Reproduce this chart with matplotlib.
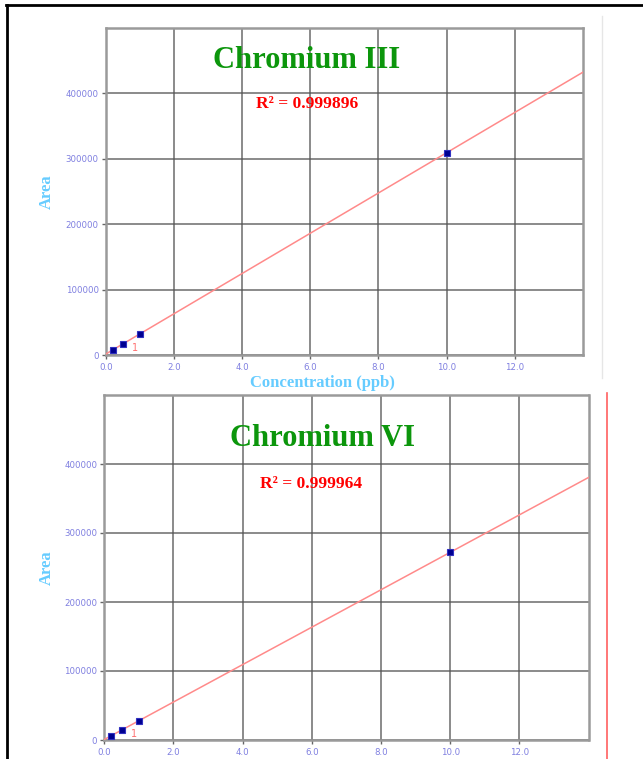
import matplotlib
matplotlib.use("Agg")
from matplotlib import pyplot as plt
from matplotlib.lines import Line2D
import numpy as np

## DATA
conc = [0.2, 0.5, 1.0, 10.0]
area_cr3 = [7000, 17000, 32500, 309000]
area_cr6 = [6500, 14000, 28000, 272000]
r2_cr3 = "0.999896"
r2_cr6 = "0.999964"
x_ticks = [0, 2, 4, 6, 8, 10, 12]
y_ticks = [0, 100000, 200000, 300000, 400000]

W, H = 643, 759
fig = plt.figure(figsize=(W / 100, H / 100), dpi=100)

serif = ["Liberation Serif", "DejaVu Serif"]
tick_col = "#7f7fe0"
green = "#0c960c"
lblue = "#66ccff"


def px(x, y):
    return x / W, 1 - y / H


def make_axes(rect, conc, area, title, r2, title_xy, r2_xy, show_xlabel, xpad):
    left, top, right, bottom = rect
    ax = fig.add_axes([left / W, 1 - bottom / H, (right - left) / W, (bottom - top) / H])
    ax.set_xlim(0, 14)
    ax.set_ylim(0, 500000)
    ax.set_xticks(x_ticks)
    ax.set_yticks(y_ticks)
    ax.set_xticklabels([f"{t:.1f}" for t in x_ticks])
    ax.set_yticklabels([str(t) for t in y_ticks])
    ax.tick_params(colors="#666666", labelcolor=tick_col, labelsize=6.2, length=3, width=1, pad=2)
    ax.tick_params(axis="x", pad=xpad)
    ax.grid(True, color="#555555", lw=1.2, alpha=0.8)
    ax.set_axisbelow(True)
    for s in ax.spines.values():
        s.set_color("#9a9a9a")
        s.set_linewidth(1.8)

    # calibration line
    k, b = np.polyfit(conc, area, 1)
    xs = np.array([0, 14])
    ax.plot(xs, k * xs + b, color="#ff8a8a", lw=1.1, zorder=3)
    ax.plot(conc, area, ls="none", marker="s", ms=4.5, mfc="#000090", mec="#3030c0", mew=0.8, zorder=4)
    ax.text(0.85, k * 0.5 - 5000, "1", color="#ff7070", fontsize=7, ha="center", va="center")

    ax.set_ylabel("Area", family=serif, fontweight="bold", color=lblue, fontsize=12)
    ax.yaxis.label.set_va("center")
    ax.yaxis.set_label_coords(-(left - 47) / (right - left), 0.5)
    if show_xlabel:
        ax.set_xlabel("Concentration (ppb)", family=serif, fontweight="bold", color=lblue, fontsize=12)
        ax.xaxis.set_label_coords((322 - left) / (right - left), -(383 - bottom) / (bottom - top))
        ax.xaxis.label.set_va("center")

    fig.text(*px(*title_xy), title, family=serif, fontweight="bold", color=green,
             fontsize=22, ha="center", va="center")
    fig.text(*px(*r2_xy), "R\u00b2 = " + r2, family=serif, fontweight="bold", color="red",
             fontsize=12.5, ha="center", va="center")
    return ax


ax1 = make_axes((105.7, 27.7, 583, 355), conc, area_cr3, "Chromium III", r2_cr3,
                (306.5, 60), (307.5, 104), True, 3)
ax2 = make_axes((104.3, 395, 588.5, 740), conc, area_cr6, "Chromium VI", r2_cr6,
                (322, 439), (311, 484), False, 3)

## PAGE DECORATIONS
fig.add_artist(Line2D([px(6, 5)[0], 1], [px(6, 5)[1]] * 2, color="black", lw=2))
fig.add_artist(Line2D([px(7, 5)[0]] * 2, [px(7, 5)[1], 0], color="black", lw=2))
fig.add_artist(Line2D([px(602, 16)[0]] * 2, [px(602, 16)[1], px(602, 378)[1]], color="#e6e6e6", lw=1))
fig.add_artist(Line2D([px(607, 393)[0]] * 2, [px(607, 393)[1], 0], color="#ff6060", lw=1.2))

fig.savefig("out.png", dpi=100)
